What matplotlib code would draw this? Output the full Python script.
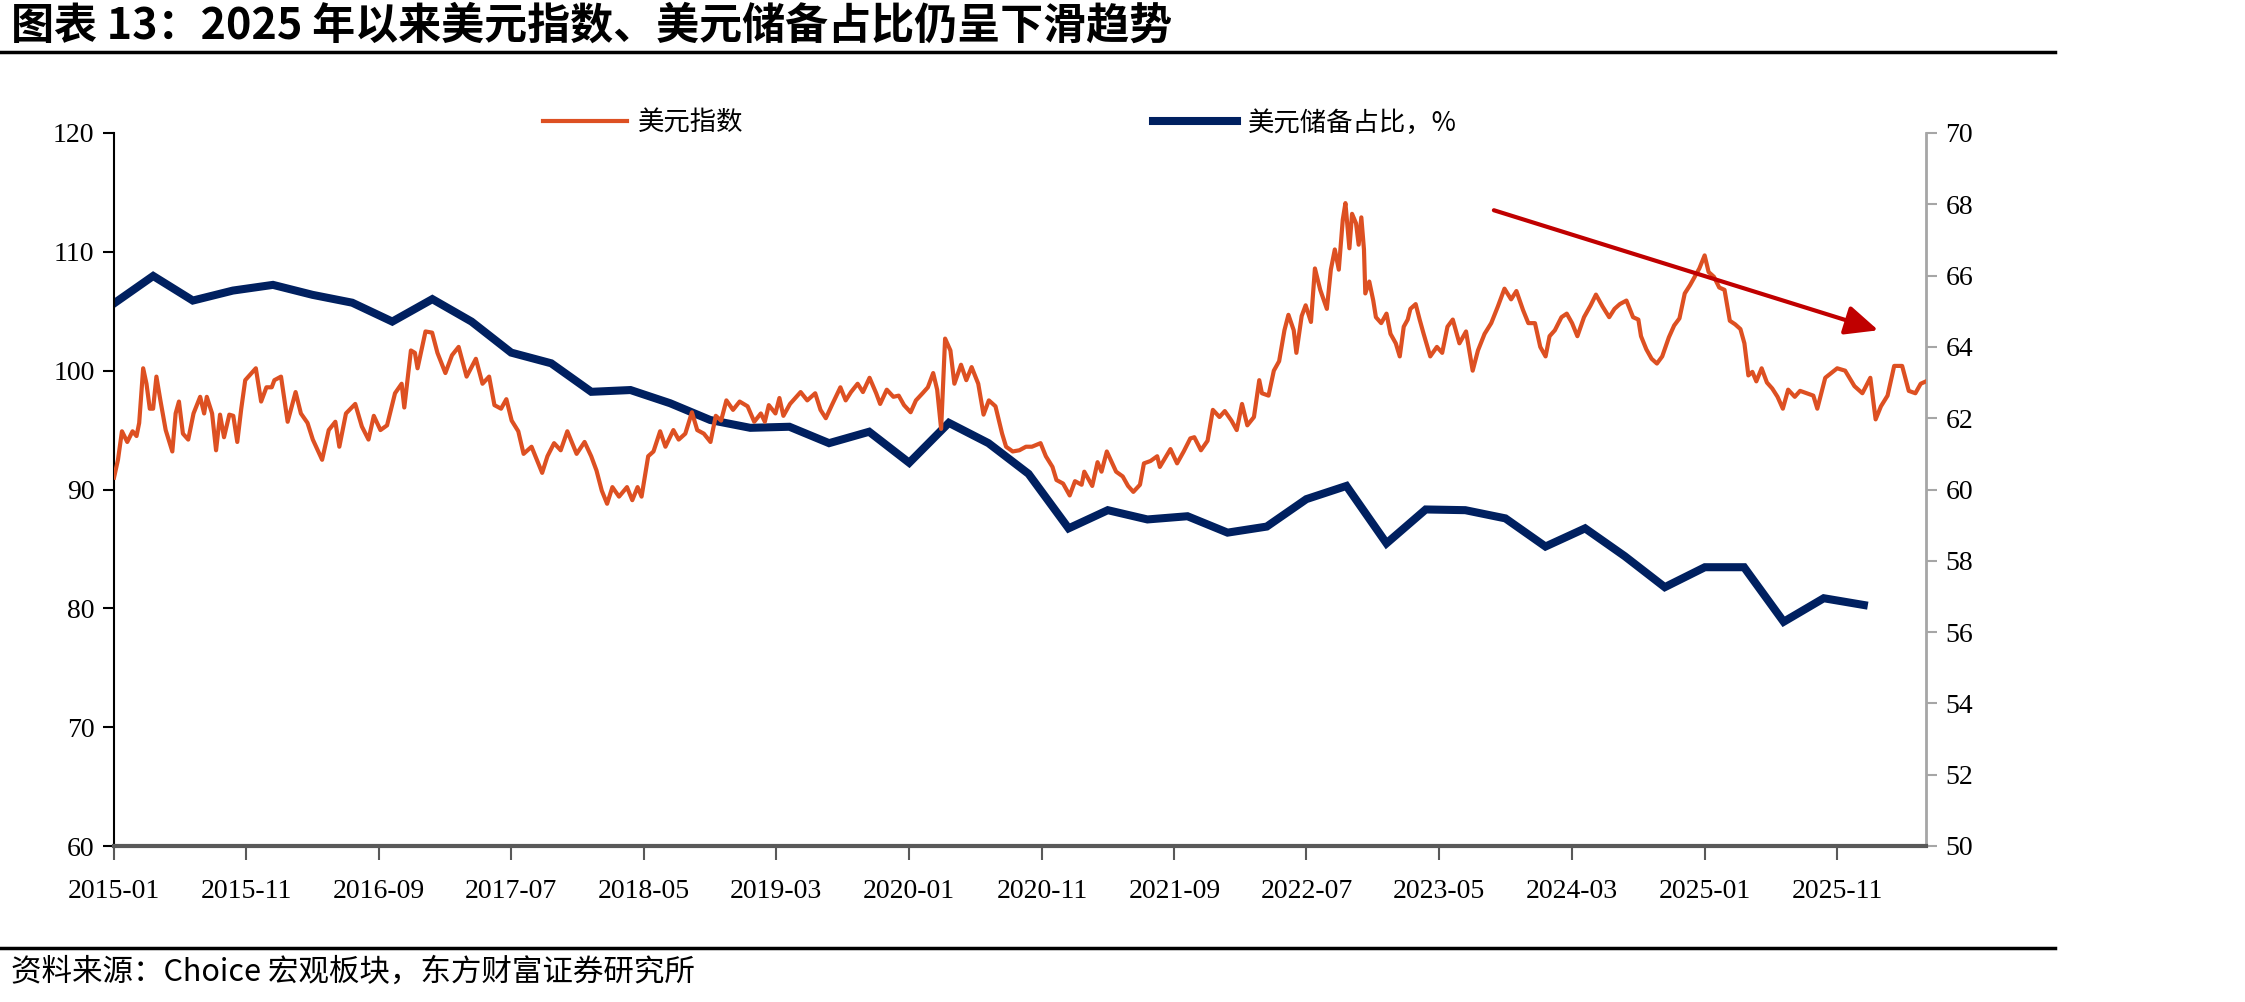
import matplotlib
matplotlib.use('Agg')
import matplotlib.pyplot as plt
from matplotlib.lines import Line2D
import pandas as pd
import numpy as np

# 美元指数: months since 2015-01 and index level
dxy_month = [0.0, 0.3, 0.6, 1.0, 1.4, 1.7, 1.9, 2.2, 2.45, 2.7, 2.95, 3.2, 3.5, 3.9, 4.4, 4.65, 4.9, 5.2, 5.6,
             6.0, 6.5, 6.8, 7.0, 7.4, 7.7, 8.0, 8.3, 8.7, 9.0, 9.3, 9.6, 9.9, 10.7, 11.1, 11.5, 11.9, 12.1,
             12.6, 13.1, 13.7, 14.1, 14.6, 15.0, 15.7, 16.2, 16.7, 17.0, 17.5, 18.2, 18.7, 19.2, 19.6, 20.1,
             20.6, 21.2, 21.7, 21.9, 22.4, 22.7, 22.9, 23.5, 24.0, 24.4, 25.0, 25.5, 26.0, 26.6, 27.3, 27.8,
             28.3, 28.7, 29.2, 29.6, 30.0, 30.5, 30.9, 31.5, 32.3, 32.7, 33.2, 33.7, 34.2, 34.9, 35.5, 36.0,
             36.4, 36.8, 37.2, 37.6, 38.1, 38.7, 39.1, 39.5, 39.8, 40.3, 40.7, 41.2, 41.6, 42.2, 42.6, 43.1,
             43.6, 44.0, 44.5, 45.0, 45.4, 45.8, 46.2, 46.7, 47.2, 47.8, 48.3, 48.8, 49.1, 49.4, 49.9, 50.2,
             50.5, 51.0, 51.8, 52.3, 52.9, 53.3, 53.7, 54.2, 54.8, 55.2, 55.6, 56.1, 56.5, 57.0, 57.5, 57.8,
             58.3, 58.8, 59.2, 59.6, 60.1, 60.5, 61.0, 61.4, 61.8, 62.1, 62.4, 62.7, 63.1, 63.4, 63.9, 64.3,
             64.7, 65.2, 65.6, 66.0, 66.5, 67.0, 67.3, 67.8, 68.3, 68.8, 69.25, 69.9, 70.3, 70.8, 71.1, 71.6,
             72.1, 72.5, 73.0, 73.2, 73.8, 74.2, 74.5, 74.9, 75.6, 76.1, 76.5, 76.9, 77.4, 77.7, 78.2, 78.7,
             78.9, 79.7, 80.2, 80.7, 81.2, 81.5, 82.0, 82.5, 82.9, 83.4, 83.8, 84.3, 84.7, 85.1, 85.5, 86.0,
             86.4, 86.6, 87.1, 87.5, 87.9, 88.3, 88.6, 89.0, 89.2, 89.6, 89.9, 90.3, 90.6, 91.0, 91.5, 91.8,
             92.1, 92.4, 92.7, 92.9, 93.2, 93.4, 93.7, 93.9, 94.1, 94.3, 94.4, 94.7, 95.0, 95.2, 95.6, 96.0,
             96.3, 96.7, 97.0, 97.3, 97.6, 97.8, 98.2, 98.5, 98.8, 99.3, 99.8, 100.2, 100.6, 101.0, 101.5,
             102.0, 102.5, 102.9, 103.4, 103.9, 104.4, 104.9, 105.4, 105.8, 106.3, 106.7, 107.2, 107.6,
             108.0, 108.3, 108.7, 109.2, 109.6, 110.0, 110.4, 110.9, 111.4, 111.8, 112.3, 112.8, 113.2,
             113.6, 114.1, 114.6, 115.0, 115.2, 115.6, 116.0, 116.4, 116.8, 117.3, 117.7, 118.1, 118.5,
             118.9, 119.3, 119.6, 120.0, 120.3, 120.7, 121.1, 121.5, 121.9, 122.3, 122.7, 123.0, 123.3,
             123.6, 123.9, 124.3, 124.7, 125.1, 125.5, 125.9, 126.3, 126.8, 127.2, 128.2, 128.5, 129.1,
             130.0, 130.6, 131.3, 131.9, 132.5, 132.9, 133.3, 133.8, 134.3, 134.9, 135.4, 135.9, 136.3, 136.7]
dxy_value = [91.0, 92.5, 94.9, 94.0, 94.9, 94.5, 95.6, 100.2, 98.9, 96.8, 96.8, 99.5, 97.5, 95.0, 93.2, 96.4,
             97.4, 94.7, 94.2, 96.4, 97.8, 96.4, 97.8, 96.4, 93.3, 96.3, 94.4, 96.3, 96.2, 94.0, 96.8, 99.2,
             100.2, 97.4, 98.6, 98.6, 99.2, 99.5, 95.7, 98.2, 96.4, 95.6, 94.2, 92.5, 95.0, 95.7, 93.6, 96.4,
             97.2, 95.3, 94.2, 96.2, 95.0, 95.4, 98.1, 98.9, 96.9, 101.7, 101.5, 100.2, 103.3, 103.2, 101.5,
             99.8, 101.3, 102.0, 99.5, 101.0, 98.9, 99.5, 97.1, 96.8, 97.6, 95.8, 94.9, 93.0, 93.6, 91.4, 92.8,
             93.9, 93.3, 94.9, 93.0, 94.0, 92.8, 91.6, 89.9, 88.8, 90.2, 89.4, 90.2, 89.1, 90.2, 89.4, 92.8,
             93.2, 94.9, 93.6, 95.0, 94.2, 94.7, 96.5, 95.0, 94.7, 94.0, 96.2, 95.8, 97.5, 96.7, 97.4, 97.0,
             95.7, 96.4, 95.7, 97.1, 96.4, 97.7, 96.2, 97.2, 98.2, 97.5, 98.1, 96.7, 96.0, 97.2, 98.6, 97.5,
             98.2, 98.9, 98.2, 99.4, 98.1, 97.2, 98.4, 97.8, 97.9, 97.1, 96.5, 97.5, 98.1, 98.6, 99.8, 98.4,
             95.1, 102.7, 101.7, 98.9, 100.5, 99.2, 100.3, 98.9, 96.3, 97.5, 97.0, 94.7, 93.6, 93.2, 93.3,
             93.6, 93.6, 93.9, 92.8, 91.9, 90.8, 90.5, 89.5, 90.7, 90.4, 91.5, 90.3, 92.3, 91.5, 93.2, 91.5,
             91.1, 90.3, 89.8, 90.4, 92.2, 92.4, 92.8, 91.9, 93.4, 92.2, 93.2, 94.3, 94.4, 93.3, 94.1, 96.7,
             96.1, 96.6, 95.8, 95.0, 97.2, 95.4, 96.1, 99.2, 98.1, 97.9, 100.0, 100.8, 103.4, 104.7, 103.4,
             101.5, 104.6, 105.5, 104.1, 108.6, 106.8, 105.2, 108.5, 110.2, 108.5, 112.7, 114.1, 110.3, 113.2,
             112.4, 110.6, 112.9, 110.2, 106.5, 107.5, 105.9, 104.5, 104.0, 104.8, 103.1, 102.3, 101.2, 103.7,
             104.3, 105.2, 105.6, 104.3, 103.1, 101.2, 102.0, 101.5, 103.7, 104.3, 102.3, 103.3, 100.0, 101.7,
             103.1, 104.0, 105.4, 106.9, 106.0, 106.7, 105.1, 104.0, 104.0, 102.0, 101.2, 102.9, 103.4, 104.5,
             104.8, 104.0, 102.9, 104.5, 105.5, 106.4, 105.4, 104.5, 105.2, 105.6, 105.9, 104.5, 104.3, 102.9,
             101.8, 101.0, 100.6, 101.2, 102.8, 103.8, 104.4, 106.5, 107.2, 108.0, 108.6, 109.7, 108.3, 107.9,
             107.0, 106.8, 104.2, 103.9, 103.5, 102.3, 99.6, 99.9, 99.1, 100.2, 99.0, 98.5, 97.8, 96.8, 98.4,
             97.8, 98.3, 97.9, 96.8, 99.4, 100.2, 100.0, 98.7, 98.1, 99.4, 95.9, 97.0, 97.9, 100.4, 100.4,
             98.3, 98.1, 98.9, 99.1]

# 美元储备占比 (%), quarterly from 2015-01
reserve_dates = pd.date_range('2015-01-01', periods=45, freq='3MS')
reserve_share = [65.22, 65.99, 65.30, 65.58, 65.74, 65.46, 65.24, 64.71, 65.34, 64.71, 63.84, 63.54,
                 62.74, 62.79, 62.42, 61.95, 61.73, 61.76, 61.30, 61.62, 60.75, 61.87, 61.30, 60.44,
                 58.91, 59.42, 59.16, 59.25, 58.79, 58.96, 59.73, 60.10, 58.49, 59.44, 59.42, 59.19,
                 58.40, 58.91, 58.13, 57.26, 57.82, 57.82, 56.29, 56.95, 56.76]

tick_dates = pd.date_range('2015-01-01', periods=14, freq='10MS')
tick_labels = [d.strftime('%Y-%m') for d in tick_dates]

# trend arrow (months since 2015-01, index level)
arrow_start = (104.1, 113.5)
arrow_end = (133.1, 103.4)

base = pd.Timestamp('2015-01-01')


def to_date(m):
    return base + pd.to_timedelta(np.asarray(m) * 30.4375, unit='D')


cjk = ['Noto Sans CJK SC', 'DejaVu Sans']
serif = 'Liberation Serif'
orange = '#DD5022'
navy = '#002060'

fig = plt.figure(figsize=(22.45, 10.02), dpi=100)
ax1 = fig.add_axes([114 / 2245, 156 / 1002, (1926 - 114) / 2245, (846 - 133) / 1002])
ax2 = ax1.twinx()

l1, = ax1.plot(to_date(dxy_month), dxy_value, color=orange, lw=3.0, label='美元指数', zorder=3)
l2, = ax2.plot(reserve_dates, reserve_share, color=navy, lw=5.8, label='美元储备占比，%',
               solid_joinstyle='miter', zorder=2)
ax1.set_zorder(ax2.get_zorder() + 1)
ax1.patch.set_visible(False)

ax1.set_xlim(base, to_date(136.7))
ax1.set_ylim(60, 120)
ax2.set_ylim(50, 70)
ax1.set_yticks(np.arange(60, 121, 10))
ax2.set_yticks(np.arange(50, 71, 2))
ax1.set_xticks(tick_dates)
ax1.set_xticklabels(tick_labels)

for ax in (ax1, ax2):
    ax.spines['top'].set_visible(False)
ax1.spines['right'].set_visible(False)
ax2.spines['left'].set_visible(False)
ax2.spines['bottom'].set_visible(False)
ax1.spines['left'].set_color('black')
ax1.spines['left'].set_linewidth(1.5)
ax1.spines['bottom'].set_color('#595959')
ax1.spines['bottom'].set_linewidth(3)
ax2.spines['right'].set_color('#A6A6A6')
ax2.spines['right'].set_linewidth(2)

ax1.tick_params(axis='y', direction='out', length=8, width=1.5, labelsize=20, pad=6)
ax1.tick_params(axis='x', direction='out', length=10, width=1.5, color='#595959', labelsize=20, pad=14)
ax2.tick_params(axis='y', direction='out', length=8, width=1.5, color='#A6A6A6', labelsize=20, pad=6)
for lab in ax1.get_xticklabels() + ax1.get_yticklabels() + ax2.get_yticklabels():
    lab.set_fontfamily(serif)

ax1.annotate('', xy=(to_date(arrow_end[0]), arrow_end[1]),
             xytext=(to_date(arrow_start[0]), arrow_start[1]),
             arrowprops=dict(arrowstyle='-|>,head_length=1.0,head_width=0.45', mutation_scale=20,
                             color='#C00000', lw=3, shrinkA=0, shrinkB=0), zorder=4)

fig.legend(handles=[l1, l2], loc='center left', bbox_to_anchor=(543 / 2245, 1 - 123 / 1002),
           ncol=2, frameon=False, prop={'family': cjk, 'size': 19}, handlelength=3.2,
           handletextpad=0.4, columnspacing=15.5, borderpad=0, borderaxespad=0)

fig.text(11 / 2245, 1 - 26 / 1002, '图表 13：2025 年以来美元指数、美元储备占比仍呈下滑趋势',
         family=cjk, fontsize=31, fontweight='bold', va='center', ha='left')
fig.add_artist(Line2D([0, 2055 / 2245], [1 - 52 / 1002] * 2, color='black', lw=2.5))
fig.add_artist(Line2D([0, 2055 / 2245], [1 - 948 / 1002] * 2, color='black', lw=2.5))
fig.text(11 / 2245, 1 - 972 / 1002, '资料来源：Choice 宏观板块，东方财富证券研究所',
         family=cjk, fontsize=22, va='center', ha='left')

fig.savefig('out.png', dpi=100)
